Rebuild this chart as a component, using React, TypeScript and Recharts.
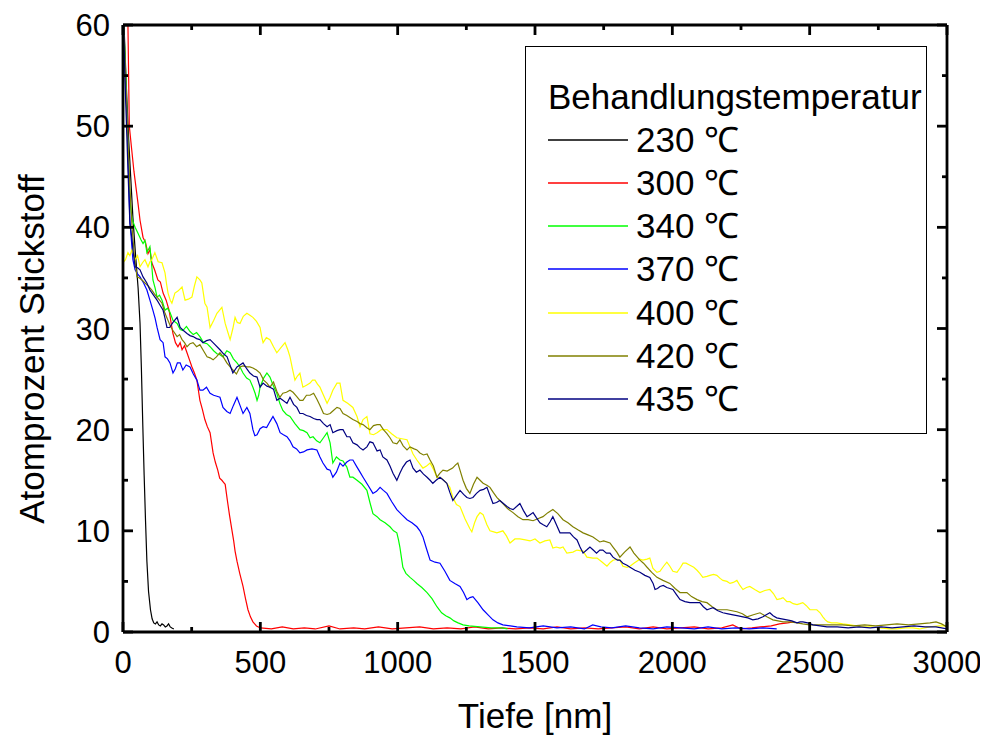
import { LineChart, Line, XAxis, YAxis, Legend } from "recharts";

// depth [nm], nitrogen [at.%] pairs
const s230: [number, number][] = [
  [0, 63], [5, 59], [12, 54], [20, 49], [28, 45], [36, 41], [45, 37.5], [55, 34], [62, 30.5], [67, 26],
  [72, 20.5], [77, 15.5], [82, 11], [87, 7], [93, 4], [100, 2.2], [106, 1.3], [112, 0.9], [118, 0.8],
  [124, 1.0], [130, 0.7], [136, 0.6], [142, 0.8], [148, 0.7], [154, 0.5], [160, 0.6], [166, 0.8],
  [172, 0.5], [178, 0.4], [185, 0.3],
];

const s300: [number, number][] = [
  [0, 70], [18, 60], [23, 50], [32, 47.6], [40, 45.5], [47, 44], [55, 42.3], [62, 40.7], [73, 39],
  [82, 38.5], [91, 37.4], [98, 37.8], [105, 36.5], [115, 35.8], [127, 34.8], [136, 34.6], [146, 33.5],
  [157, 32.8], [168, 31.8], [176, 30.4], [182, 29.5], [191, 28.6], [200, 28.2], [208, 28.6], [215, 27.9],
  [224, 28.3], [233, 27.6], [242, 26.9], [251, 26.2], [260, 25.6], [269, 24.9], [275, 23.8], [280, 22.9],
  [289, 22], [298, 21], [307, 20.3], [317, 19.7], [322, 18.8], [328, 17.7], [336, 16.8], [345, 16],
  [352, 15.2], [360, 15], [366, 14.8], [372, 14.6], [380, 13], [388, 11.5], [397, 10], [403, 9], [408, 8],
  [415, 7], [425, 5.8], [437, 4.5], [446, 3.3], [455, 2.2], [464, 1.5], [473, 1], [486, 0.6], [500, 0.4],
  [540, 0.3], [580, 0.5], [620, 0.3], [660, 0.4], [700, 0.3], [750, 0.6], [790, 0.3], [840, 0.4],
  [880, 0.3], [930, 0.5], [980, 0.3], [1030, 0.4], [1080, 0.5], [1130, 0.3], [1180, 0.4], [1230, 0.3],
  [1280, 0.5], [1330, 0.3], [1380, 0.4], [1430, 0.3], [1480, 0.4], [1530, 0.3], [1580, 0.5], [1630, 0.3],
  [1680, 0.4], [1730, 0.3], [1780, 0.4], [1830, 0.5], [1880, 0.3], [1930, 0.5], [1980, 0.3], [2030, 0.4],
  [2080, 0.5], [2130, 0.3], [2180, 0.4], [2220, 0.7], [2250, 0.3], [2290, 0.4], [2320, 0.5], [2360, 0.6],
  [2390, 0.8], [2420, 0.9], [2440, 1.0],
];

const s340: [number, number][] = [
  [0, 62], [10, 55], [18, 48], [25, 42.7], [33, 40.8], [44, 40], [55, 39.4], [65, 38.8], [73, 38.4],
  [80, 38.7], [87, 37.5], [98, 38.1], [105, 36.1], [109, 34.8], [117, 34], [124, 33.1], [133, 33.3],
  [142, 32.8], [153, 31.8], [162, 32], [171, 31.6], [182, 30.8], [197, 30.5], [208, 29.9], [218, 29.8],
  [231, 30.2], [244, 29.7], [256, 29.4], [268, 29.6], [280, 29.2], [293, 28.6], [306, 28.5], [317, 28.2],
  [330, 27.8], [342, 27.5], [353, 27.4], [364, 27.2], [378, 27.8], [390, 27.6], [402, 27], [415, 26.6],
  [426, 26.2], [437, 25.6], [450, 25.1], [462, 24.9], [473, 24.2], [481, 23.6], [488, 22.9], [494, 23.4],
  [499, 24.2], [512, 25.1], [524, 25.6], [535, 25.2], [548, 24.3], [560, 23.6], [571, 22.6], [582, 21.9],
  [595, 21.5], [608, 21.3], [626, 20.6], [644, 20], [657, 19.9], [670, 19.7], [681, 19.2], [692, 19.3],
  [705, 18.9], [717, 18.7], [730, 19.2], [743, 19.7], [754, 18.7], [764, 16.7], [777, 17.3], [790, 17],
  [801, 16.9], [815, 16.3], [826, 15.3], [837, 15.3], [852, 15], [870, 14.6], [888, 14], [899, 12.8],
  [910, 11.7], [925, 11.4], [936, 11.1], [954, 10.8], [972, 10.4], [985, 10], [997, 9.8], [1003, 9.1],
  [1008, 8.4], [1014, 7.3], [1019, 6.4], [1030, 5.8], [1045, 5.4], [1058, 5.1], [1070, 4.8], [1088, 4.4],
  [1107, 3.9], [1125, 3.3], [1143, 2.5], [1160, 1.9], [1175, 1.6], [1190, 1.4], [1205, 1.1], [1220, 0.9],
  [1238, 0.7], [1260, 0.6], [1300, 0.5], [1340, 0.4], [1380, 0.4], [1400, 0.3],
];

const s370: [number, number][] = [
  [0, 62], [8, 55], [15, 50.6], [25, 40.7], [36, 36.8], [44, 35.8], [53, 35.4], [62, 35.1], [75, 34.5],
  [87, 33.8], [98, 32.8], [109, 31.8], [117, 31], [124, 30.1], [135, 28.9], [146, 28.6], [153, 27.2],
  [162, 27], [171, 26.6], [182, 25.6], [190, 26], [198, 26.6], [208, 26.6], [218, 25.9], [230, 26.4],
  [244, 26.2], [256, 25.5], [269, 24.9], [280, 23.9], [291, 23.9], [304, 24.2], [317, 23.6], [330, 23.4],
  [342, 23.3], [353, 23.2], [364, 22.2], [378, 21.8], [390, 21.6], [402, 22.4], [415, 23.2], [426, 22.4],
  [437, 21.6], [451, 22.2], [462, 21.6], [473, 20], [480, 19.4], [488, 19.5], [499, 20.1], [510, 20.3],
  [523, 20.2], [535, 20.8], [546, 21.3], [560, 20.6], [572, 19.7], [584, 19.5], [597, 19.3], [608, 18.9],
  [619, 18.3], [632, 18.1], [644, 17.7], [657, 17.8], [670, 18], [688, 18.1], [706, 18], [717, 17.3],
  [728, 16.7], [743, 16.1], [754, 16], [764, 15.3], [777, 15.8], [790, 16.7], [801, 16.4], [815, 16.8],
  [826, 17], [837, 17], [852, 16.3], [863, 15.8], [874, 15.3], [892, 14.5], [910, 13.7], [923, 13.9],
  [936, 14.3], [948, 14], [961, 13.7], [978, 12.9], [997, 12.1], [1015, 11.6], [1034, 11.1], [1052, 10.8],
  [1070, 10.4], [1081, 10], [1092, 9.4], [1103, 8.4], [1118, 7.1], [1136, 6.9], [1154, 6.8], [1172, 6],
  [1190, 5.1], [1208, 4.8], [1227, 4.5], [1240, 3.9], [1252, 3.2], [1263, 3.4], [1274, 3.5], [1292, 2.9],
  [1311, 2.2], [1329, 1.7], [1347, 1.2], [1365, 0.9], [1383, 0.7], [1410, 0.6], [1434, 0.5], [1480, 0.4],
  [1530, 0.6], [1580, 0.4], [1630, 0.5], [1680, 0.3], [1710, 0.7], [1740, 0.5], [1780, 0.4], [1830, 0.6],
  [1880, 0.4], [1930, 0.3], [1980, 0.5], [2030, 0.4], [2080, 0.3], [2130, 0.5], [2180, 0.3], [2230, 0.4],
  [2280, 0.3], [2330, 0.4], [2380, 0.3],
];

const s400: [number, number][] = [
  [0, 36.5], [9, 36.8], [18, 37.5], [25, 37.2], [33, 37.8], [44, 36.8], [53, 37.2], [62, 36.1], [71, 36.5],
  [80, 36.8], [91, 36.1], [98, 36.6], [105, 36.8], [116, 37.5], [128, 36.6], [142, 36.5], [153, 35.5],
  [158, 34.5], [164, 33.5], [172, 32.8], [178, 32.5], [189, 33.5], [200, 33.7], [215, 34.1], [220, 33.5],
  [226, 32.8], [238, 32.9], [251, 33.1], [260, 34.2], [269, 35.1], [280, 34.8], [287, 34.5], [298, 32.5],
  [306, 32.1], [317, 30.1], [330, 30.8], [342, 31.5], [351, 31.8], [360, 32.1], [372, 30.5], [382, 29.6],
  [390, 28.9], [400, 30], [408, 31.1], [416, 30.6], [426, 30.5], [438, 31.2], [451, 31.5], [462, 31.3],
  [473, 31.1], [486, 30.7], [499, 30.1], [505, 29.2], [510, 28.6], [522, 29.1], [535, 28.9], [548, 28.2],
  [560, 27.6], [575, 28.1], [590, 28.6], [600, 27.9], [608, 27.2], [617, 26], [626, 24.9], [635, 25.3],
  [644, 25.6], [650, 24.8], [655, 24.2], [668, 24.4], [681, 24.6], [690, 24.9], [699, 24.9], [708, 24.5],
  [717, 24.2], [730, 23.4], [743, 22.6], [754, 23.2], [764, 23.9], [779, 24.6], [790, 24.6], [801, 22.9],
  [818, 22.6], [837, 22.2], [852, 21.3], [863, 20.3], [874, 21], [888, 21.3], [899, 19.6], [912, 19.5],
  [925, 19.7], [940, 20], [961, 20], [978, 19.6], [997, 19.2], [1015, 19.1], [1034, 19], [1045, 18.3],
  [1056, 17.6], [1070, 17], [1081, 16.6], [1092, 16.2], [1105, 16.4], [1118, 16.7], [1130, 16.1],
  [1143, 15.3], [1160, 15.2], [1179, 14.7], [1190, 14.3], [1201, 13.3], [1214, 12.6], [1227, 12.4],
  [1245, 11.2], [1263, 10.2], [1270, 9.9], [1280, 10.8], [1289, 11.4], [1300, 11.8], [1311, 11.6],
  [1325, 10.6], [1336, 10], [1350, 9.9], [1361, 9.8], [1372, 9.9], [1383, 10], [1396, 9.5], [1409, 8.8],
  [1427, 9.2], [1445, 9.2], [1465, 9.1], [1482, 9], [1500, 9.2], [1518, 8.8], [1536, 9], [1554, 9.1],
  [1565, 8.3], [1578, 8.4], [1591, 8.3], [1602, 8.4], [1616, 7.8], [1638, 7.9], [1653, 8.1], [1675, 8],
  [1689, 7.4], [1711, 7.3], [1726, 7.3], [1745, 6.9], [1762, 6.5], [1775, 6.9], [1784, 7.1], [1798, 7.2],
  [1809, 7.1], [1820, 6.5], [1835, 6.4], [1846, 6.5], [1860, 6.8], [1882, 7.2], [1893, 7.1], [1908, 7.2],
  [1918, 7.3], [1929, 6.3], [1944, 5.9], [1955, 6], [1968, 6.5], [1980, 6.9], [1991, 6.5], [2002, 6],
  [2017, 5.9], [2030, 6.4], [2039, 6.8], [2050, 6.8], [2064, 6.6], [2078, 6.4], [2090, 6.1], [2100, 5.8],
  [2111, 5.4], [2126, 5.5], [2137, 5.6], [2150, 5.7], [2162, 5.6], [2174, 5.3], [2184, 5.1], [2199, 5],
  [2210, 4.8], [2222, 4.9], [2235, 5.1], [2246, 4.6], [2257, 4.2], [2270, 4.4], [2282, 4.5], [2300, 4.2],
  [2319, 3.9], [2337, 4.1], [2355, 4.2], [2368, 3.8], [2381, 3.2], [2395, 3.3], [2403, 3.4], [2417, 3],
  [2428, 3], [2440, 2.8], [2454, 2.7], [2465, 2.8], [2475, 2.9], [2488, 2.6], [2501, 2.2], [2514, 2.2],
  [2526, 2.2], [2538, 1.9], [2548, 1.5], [2557, 1.2], [2566, 1], [2580, 0.9], [2599, 0.9], [2620, 0.8],
  [2647, 0.7], [2670, 0.6], [2694, 0.5], [2720, 0.5], [2756, 0.4], [2790, 0.3], [2818, 0.3], [2850, 0.4],
  [2876, 0.4], [2900, 0.3], [2938, 0.5], [2970, 0.6], [3000, 0.6],
];

const s420: [number, number][] = [
  [0, 62], [8, 56], [16, 50], [25, 44], [33, 40], [42, 37], [51, 35.1], [60, 35], [69, 34.8], [80, 34.5],
  [92, 34.2], [105, 33.8], [115, 33.4], [124, 33.1], [133, 32.8], [142, 32.5], [153, 31.5], [164, 30.8],
  [173, 30.2], [182, 29.8], [197, 29.2], [206, 29.4], [215, 28.9], [224, 28.6], [233, 28.2], [244, 28.5],
  [255, 28.6], [268, 28.2], [280, 28.4], [293, 27.8], [306, 27.2], [317, 27.1], [328, 26.9], [340, 27.2],
  [353, 27.6], [365, 27.2], [378, 26.6], [390, 26.2], [400, 25.9], [413, 25.5], [426, 26.2], [437, 26.3],
  [451, 26.2], [462, 26.2], [473, 26.1], [486, 25.9], [499, 25.6], [512, 24.9], [524, 24.6], [535, 24.2],
  [548, 24.7], [560, 23.8], [571, 23.2], [582, 23.6], [595, 23.7], [608, 23.9], [619, 23.7], [632, 23.3],
  [644, 22.9], [655, 22.9], [668, 23.4], [681, 23.4], [694, 23.6], [706, 23], [717, 22.4], [730, 21.6],
  [743, 21.5], [754, 21.6], [766, 21.9], [779, 22.2], [790, 22.1], [801, 21.6], [815, 21.4], [826, 21.2],
  [837, 21], [852, 20.8], [863, 20.6], [874, 20.5], [888, 20.2], [899, 20], [912, 20.4], [925, 20.5],
  [936, 20.5], [948, 20], [961, 19.6], [972, 19.2], [983, 18.7], [997, 18.6], [1008, 19], [1020, 18.4],
  [1034, 18], [1045, 18.3], [1060, 18.1], [1070, 18], [1081, 17.7], [1094, 17.5], [1107, 17.6], [1118, 17],
  [1130, 16.4], [1143, 15.3], [1154, 15.7], [1165, 16], [1180, 15.9], [1200, 16.2], [1210, 16.5],
  [1219, 16.7], [1228, 15.9], [1238, 15], [1250, 14.2], [1263, 13.7], [1276, 14.6], [1289, 15.3],
  [1300, 15], [1311, 14.7], [1325, 14.5], [1336, 14.3], [1348, 13.8], [1361, 13.3], [1372, 13], [1383, 12.7],
  [1400, 12.2], [1420, 11.8], [1438, 11.4], [1456, 11.1], [1475, 11.1], [1493, 11], [1510, 11.2],
  [1529, 11.4], [1547, 11.8], [1565, 12.1], [1583, 11.7], [1602, 11.1], [1620, 10.8], [1638, 10.4],
  [1656, 10.1], [1675, 9.8], [1693, 9.6], [1711, 9.4], [1736, 8.9], [1750, 9], [1773, 8.8], [1784, 8.4],
  [1798, 7.9], [1809, 7.4], [1826, 7.9], [1846, 8.4], [1860, 7.8], [1882, 7.1], [1895, 6.8], [1908, 6.4],
  [1925, 5.9], [1944, 5.4], [1966, 5.1], [1991, 4.8], [2010, 4.3], [2028, 3.9], [2053, 3.9], [2070, 3.5],
  [2090, 3.2], [2108, 3], [2126, 2.9], [2145, 2.5], [2162, 2.2], [2180, 2.2], [2199, 2.2], [2217, 2.1],
  [2235, 2], [2255, 1.8], [2272, 1.5], [2295, 1.7], [2319, 1.9], [2344, 1.5], [2366, 1.2], [2385, 1.1],
  [2403, 1], [2430, 1], [2454, 0.9], [2475, 0.8], [2500, 0.7], [2540, 0.7], [2580, 0.7], [2620, 0.7],
  [2660, 0.6], [2700, 0.7], [2740, 0.6], [2780, 0.7], [2818, 0.8], [2860, 0.7], [2900, 0.8], [2938, 0.9],
  [2960, 1], [2980, 0.8], [3000, 0.5],
];

const s435: [number, number][] = [
  [0, 62], [8, 54], [18, 45.7], [25, 40.4], [33, 38.8], [36, 37.8], [44, 36.1], [53, 36], [62, 35.8],
  [73, 35.1], [87, 34.5], [98, 33.8], [111, 33.3], [124, 32.8], [135, 32.3], [146, 31.8], [153, 31],
  [160, 30.1], [170, 30.1], [182, 30.6], [197, 31.1], [208, 30.1], [220, 29.8], [233, 29.5], [244, 29.3],
  [255, 29.2], [268, 29], [280, 28.9], [291, 28.6], [304, 28.8], [317, 28.9], [335, 28.4], [353, 27.9],
  [366, 27.5], [379, 27.2], [400, 25.6], [415, 26.2], [426, 26.4], [437, 26.6], [451, 26], [462, 25.6],
  [475, 25.3], [488, 25.2], [499, 24.2], [510, 24.6], [524, 24.3], [535, 24.2], [548, 24], [560, 22.9],
  [572, 23.1], [582, 22.9], [597, 22.6], [608, 23.2], [621, 22.5], [633, 22.2], [644, 21.6], [655, 21.6],
  [668, 21.4], [681, 21.3], [694, 21.1], [706, 21], [717, 21], [730, 20.6], [743, 20.3], [754, 20.5],
  [764, 19.7], [779, 19.9], [790, 20], [801, 20], [815, 19.3], [826, 19.3], [837, 18.7], [852, 18.5],
  [863, 18.2], [874, 18], [888, 18.3], [899, 18.8], [910, 18.7], [925, 17.9], [936, 18], [946, 17.3],
  [961, 17], [972, 16.4], [983, 15.7], [997, 15], [1008, 15.7], [1019, 16.3], [1032, 16.8], [1045, 17],
  [1056, 16.2], [1068, 15.8], [1081, 16], [1094, 15.6], [1107, 15.3], [1118, 15], [1128, 14.7], [1140, 15],
  [1154, 15.3], [1167, 15], [1179, 14.7], [1190, 13.8], [1201, 13], [1214, 13.5], [1227, 14], [1240, 13.6],
  [1252, 13.3], [1263, 13.2], [1274, 13.3], [1287, 13.7], [1300, 14], [1313, 14.1], [1325, 14.3],
  [1336, 13.5], [1347, 12.7], [1360, 12.8], [1372, 13], [1385, 12.7], [1398, 12.4], [1409, 12.2],
  [1420, 12.1], [1433, 12.4], [1445, 12.7], [1458, 12], [1471, 11.4], [1482, 11.6], [1493, 11.8],
  [1505, 11.3], [1518, 10.8], [1530, 10.6], [1543, 10.4], [1555, 10.9], [1565, 11.4], [1578, 10.6],
  [1591, 9.8], [1610, 9.8], [1627, 9.8], [1640, 9.4], [1653, 9.1], [1664, 8.4], [1675, 7.8], [1688, 8.1],
  [1700, 8.4], [1712, 8.1], [1724, 7.8], [1736, 8.1], [1747, 8.1], [1760, 7.8], [1773, 7.8], [1784, 7.4],
  [1800, 7.1], [1809, 7.1], [1820, 6.8], [1835, 6.6], [1846, 6.4], [1864, 6.1], [1882, 5.9], [1900, 5.6],
  [1918, 5.4], [1930, 4.8], [1937, 4.2], [1946, 4.3], [1955, 4.5], [1967, 4.6], [1980, 4.4], [1991, 4.3],
  [2002, 4.2], [2015, 3.7], [2028, 3.2], [2046, 3], [2064, 2.9], [2082, 2.9], [2100, 2.9], [2113, 2.5],
  [2126, 2.2], [2137, 2.3], [2148, 2.4], [2166, 2.1], [2184, 1.9], [2203, 1.8], [2221, 1.7], [2240, 1.6],
  [2257, 1.5], [2275, 1.4], [2293, 1.2], [2312, 1.3], [2330, 1.5], [2342, 1.7], [2355, 1.9], [2367, 1.6],
  [2380, 1.4], [2398, 1.3], [2417, 1.2], [2435, 1.1], [2454, 0.9], [2465, 1], [2475, 1], [2493, 0.9],
  [2512, 0.7], [2538, 0.6], [2563, 0.5], [2600, 0.5], [2640, 0.4], [2680, 0.5], [2720, 0.4], [2760, 0.5],
  [2800, 0.4], [2840, 0.5], [2880, 0.6], [2920, 0.5], [2960, 0.5], [3000, 0.3],
];

const seriesNames = ["230 \u2103", "300 \u2103", "340 \u2103", "370 \u2103", "400 \u2103", "420 \u2103", "435 \u2103"];
const seriesColors = ["#000000", "#ff0000", "#00ff00", "#0000ff", "#ffff00", "#808000", "#000080"];
const seriesData = [s230, s300, s340, s370, s400, s420, s435];

const xTicks = [0, 250, 500, 750, 1000, 1250, 1500, 1750, 2000, 2250, 2500, 2750, 3000];
const yTicks = [0, 5, 10, 15, 20, 25, 30, 35, 40, 45, 50, 55, 60];

const FONT = "'Liberation Sans', Arial, Helvetica, sans-serif";
const TICK_FS = 31;
const AXIS_W = 2.8;

const BottomTick = (p: any) => {
  const { x, y, payload } = p;
  const major = payload.value % 500 === 0;
  return (
    <g>
      <line x1={x} x2={x} y1={y} y2={y - (major ? 10 : 5)} stroke="#000" strokeWidth={AXIS_W} />
      {major && (
        <text x={x} y={y + 41} textAnchor="middle" fontSize={TICK_FS} fontFamily={FONT} fill="#000">
          {payload.value}
        </text>
      )}
    </g>
  );
};

const TopTick = (p: any) => {
  const { x, y, payload } = p;
  const major = payload.value % 500 === 0;
  return <line x1={x} x2={x} y1={y} y2={y + (major ? 10 : 5)} stroke="#000" strokeWidth={AXIS_W} />;
};

const LeftTick = (p: any) => {
  const { x, y, payload } = p;
  const major = payload.value % 10 === 0;
  return (
    <g>
      <line x1={x} x2={x + (major ? 10 : 5)} y1={y} y2={y} stroke="#000" strokeWidth={AXIS_W} />
      {major && (
        <text x={x - 13} y={y + 11} textAnchor="end" fontSize={TICK_FS} fontFamily={FONT} fill="#000">
          {payload.value}
        </text>
      )}
    </g>
  );
};

const RightTick = (p: any) => {
  const { x, y, payload } = p;
  const major = payload.value % 10 === 0;
  return <line x1={x} x2={x - (major ? 10 : 5)} y1={y} y2={y} stroke="#000" strokeWidth={AXIS_W} />;
};

const LegendBox = (props: any) => {
  const items = props.payload || [];
  return (
    <div
      style={{
        width: 402,
        height: 388,
        border: "1.5px solid #000",
        boxSizing: "border-box",
        position: "relative",
        background: "#fff",
        fontFamily: FONT,
        color: "#000",
      }}
    >
      <div style={{ position: "absolute", left: 22, top: 32, fontSize: 35, lineHeight: "35px", whiteSpace: "nowrap" }}>
        Behandlungstemperatur
      </div>
      {items.map((e: any, i: number) => (
        <div
          key={e.value}
          style={{
            position: "absolute",
            left: 22,
            top: 92.5 + i * 43.3 - 20,
            height: 40,
            display: "flex",
            alignItems: "center",
            whiteSpace: "nowrap",
          }}
        >
          <svg width={80} height={4} style={{ display: "block" }}>
            <line x1={0} x2={80} y1={2} y2={2} stroke={e.color} strokeWidth={1.4} />
          </svg>
          <span style={{ marginLeft: 8, fontSize: 35, lineHeight: "40px" }}>{e.value}</span>
        </div>
      ))}
    </div>
  );
};

export default function App() {
  return (
    <LineChart width={980} height={730} margin={{ top: 16, right: 40, bottom: 0, left: 0 }}>
      <XAxis
        xAxisId="b"
        dataKey="x"
        type="number"
        domain={[0, 3000]}
        ticks={xTicks}
        interval={0}
        allowDataOverflow
        height={106}
        tickSize={0}
        tickMargin={0}
        tickLine={false}
        tick={BottomTick}
        stroke="#000"
        axisLine={{ stroke: "#000", strokeWidth: AXIS_W }}
      />
      <XAxis
        xAxisId="t"
        orientation="top"
        dataKey="x"
        type="number"
        domain={[0, 3000]}
        ticks={xTicks}
        interval={0}
        allowDataOverflow
        height={1}
        tickSize={0}
        tickMargin={0}
        tickLine={false}
        tick={TopTick}
        stroke="#000"
        axisLine={{ stroke: "#000", strokeWidth: AXIS_W }}
      />
      <YAxis
        yAxisId="l"
        type="number"
        domain={[0, 60]}
        ticks={yTicks}
        interval={0}
        allowDataOverflow
        width={115}
        tickSize={0}
        tickMargin={0}
        tickLine={false}
        tick={LeftTick}
        stroke="#000"
        axisLine={{ stroke: "#000", strokeWidth: AXIS_W }}
      />
      <YAxis
        yAxisId="r"
        orientation="right"
        type="number"
        domain={[0, 60]}
        ticks={yTicks}
        interval={0}
        allowDataOverflow
        width={1}
        tickSize={0}
        tickMargin={0}
        tickLine={false}
        tick={RightTick}
        stroke="#000"
        axisLine={{ stroke: "#000", strokeWidth: AXIS_W }}
      />
      {seriesData.map((s, i) => (
        <Line
          key={seriesNames[i]}
          xAxisId="b"
          yAxisId="l"
          name={seriesNames[i]}
          data={s.map(([x, y]) => ({ x, y }))}
          dataKey="y"
          type="linear"
          stroke={seriesColors[i]}
          strokeWidth={1.2}
          dot={false}
          activeDot={false}
          isAnimationActive={false}
        />
      ))}
      <Legend
        layout="horizontal"
        verticalAlign="middle"
        align="center"
        content={LegendBox}
        wrapperStyle={{ position: "absolute", left: 517, top: 38, width: 402, height: 388 }}
      />
      <text x={527} y={720} textAnchor="middle" fontSize={35} fontFamily={FONT} fill="#000">
        Tiefe [nm]
      </text>
      <text
        x={0}
        y={0}
        transform="translate(36,341) rotate(-90)"
        textAnchor="middle"
        fontSize={35}
        fontFamily={FONT}
        fill="#000"
      >
        Atomprozent Stickstoff
      </text>
    </LineChart>
  );
}
